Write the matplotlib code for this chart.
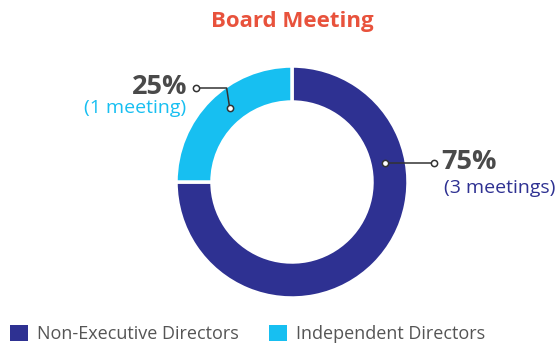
import numpy as np
import matplotlib
import matplotlib.pyplot as plt
from matplotlib.patches import Patch

matplotlib.use('Agg')

plt.rcParams['font.family'] = ['Open Sans', 'DejaVu Sans']

categories = ['Non-Executive Directors', 'Independent Directors']
shares = [75, 25]
meetings = [3, 1]
colors = ['#2E3192', '#17BFF1']
title = 'Board Meeting'

W, H = 558, 345
cx, cy = 292, H - 182
r_out, ring = 116, 36

fig = plt.figure(figsize=(W / 100, H / 100), dpi=100)
ax = fig.add_axes([0, 0, 1, 1])
ax.set_xlim(0, W)
ax.set_ylim(0, H)
ax.set_aspect('equal')
ax.axis('off')

wedges, _ = ax.pie(shares, colors=colors, startangle=90, counterclock=False,
                   center=(cx, cy), radius=r_out,
                   wedgeprops=dict(width=ring, edgecolor='white', linewidth=2.5))
ax.set_xlim(0, W)
ax.set_ylim(0, H)

fig.text(cx / W, 1 - 21 / H, title, ha='center', va='center',
         fontsize=16, fontweight='bold', color='#E8523C')


def polar(angle_deg, r):
    a = np.radians(angle_deg)
    return cx + r * np.cos(a), cy + r * np.sin(a)


r_mid = r_out - ring / 2
line_kw = dict(color='#333333', lw=1.1)
dot_kw = dict(marker='o', ms=4.5, mfc='white', mec='#333333', mew=1.1, ls='none')

# 75% label: straight leader to the right
x0, y0 = polar(11.5, r_mid - 3)
x1 = 434
ax.plot([x0, x1], [y0, y0], **line_kw, zorder=3)
ax.plot([x0, x1], [y0, y0], **dot_kw, zorder=4)
ax.text(x1 + 7, y0 + 1, f'{shares[0]}%', ha='left', va='center',
        fontsize=19.5, fontweight='bold', color='#4A4A4A')
ax.text(x1 + 10, y0 - 25, f'({meetings[0]} meetings)', ha='left', va='center',
        fontsize=14, color=colors[0])

# 25% label: elbow leader up and to the left
x0, y0 = polar(130, r_mid - 1)
ye = H - 88
xe = 196
ax.plot([x0, x0 - 3, xe], [y0, ye, ye], **line_kw, zorder=3)
ax.plot([x0, xe], [y0, ye], **dot_kw, zorder=4)
ax.text(xe - 9, ye + 1, f'{shares[1]}%', ha='right', va='center',
        fontsize=19.5, fontweight='bold', color='#4A4A4A')
ax.text(xe - 10, ye - 20, f'({meetings[1]} meeting)', ha='right', va='center',
        fontsize=14, color=colors[1])

handles = [Patch(facecolor=c, edgecolor='none') for c in colors]
fig.legend(handles, categories, loc='lower left', bbox_to_anchor=(-1 / W, -9 / H),
           ncol=2, frameon=False, fontsize=13, labelcolor='#555555',
           handlelength=1.0, handleheight=1.0, handletextpad=0.5,
           columnspacing=1.7, borderaxespad=0.2)

fig.savefig('out.png', dpi=100)
